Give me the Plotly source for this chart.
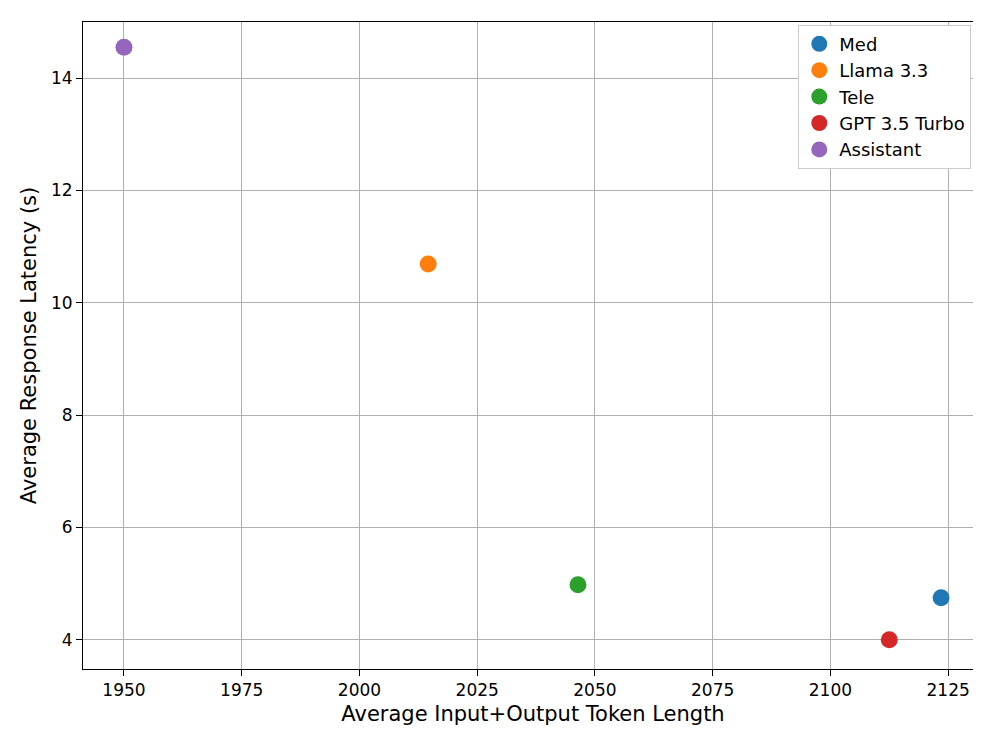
import plotly.graph_objects as go

models = ["Med", "Llama 3.3", "Tele", "GPT 3.5 Turbo", "Assistant"]
token_len = [2123.5, 2014.6, 2046.4, 2112.5, 1950.0]
latency = [4.75, 10.69, 4.98, 4.0, 14.55]
colors = ["#1f77b4", "#ff7f0e", "#2ca02c", "#d62728", "#9467bd"]

fig = go.Figure()
for name, x, y, c in zip(models, token_len, latency, colors):
    fig.add_trace(go.Scatter(x=[x], y=[y], mode="markers", name=name,
                             marker=dict(color=c, size=17)))

axis = dict(showline=True, linecolor="black", mirror=True, ticks="outside",
            ticklen=6, tickcolor="black", gridcolor="#b0b0b0", zeroline=False,
            automargin=False, tickfont=dict(size=17, color="black"))
fig.update_xaxes(range=[1941.3, 2132.4], tickvals=list(range(1950, 2126, 25)),
                 title=dict(text="Average Input+Output Token Length", font=dict(size=21, color="black"), standoff=6), **axis)
fig.update_yaxes(range=[3.48, 15.0], tickvals=[4, 6, 8, 10, 12, 14],
                 title=dict(text="Average Response Latency (s)", font=dict(size=21, color="black"), standoff=8), **axis)
fig.update_layout(width=981, height=733, plot_bgcolor="white", paper_bgcolor="white",
                  font=dict(family="DejaVu Sans"),
                  margin=dict(l=75, r=6, t=14, b=72, autoexpand=False),
                  legend=dict(x=0.987, y=0.996, xanchor="right", yanchor="top",
                              bordercolor="#cccccc", borderwidth=1, bgcolor="white",
                              font=dict(size=18, color="black")))
fig.write_html("out.html")
